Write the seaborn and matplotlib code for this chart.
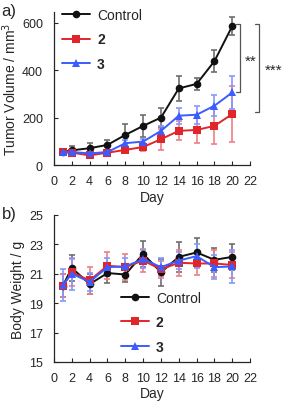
import numpy as np
import pandas as pd
import seaborn as sns
from matplotlib import pyplot as plt

sns.set_style("ticks")
plt.rcParams['font.family'] = ['Liberation Sans', 'DejaVu Sans']

days = [1, 2, 4, 6, 8, 10, 12, 14, 16, 18, 20]
groups = ['Control', '2', '3']

# tumor volume (mm^3)
vol_ctrl = [55, 62, 71, 85, 127, 165, 200, 323, 342, 438, 586]
vol_ctrl_err = [12, 20, 20, 20, 45, 45, 40, 52, 25, 47, 40]
vol_2 = [55, 52, 41, 52, 64, 76, 109, 144, 148, 165, 215]
vol_2_err = [10, 10, 10, 8, 12, 17, 45, 40, 55, 77, 118]
vol_3 = [55, 55, 49, 55, 92, 99, 144, 208, 212, 250, 306]
vol_3_err = [8, 10, 10, 8, 15, 12, 20, 33, 37, 45, 68]

# body weight (g)
bw_ctrl = [20.2, 21.4, 20.3, 21.05, 20.95, 22.35, 21.1, 22.15, 22.45, 21.95, 22.15]
bw_ctrl_err = [0.8, 0.9, 0.7, 0.7, 0.5, 0.9, 0.9, 1.0, 1.0, 0.8, 0.9]
bw_2 = [20.2, 21.1, 20.55, 21.55, 21.45, 21.9, 21.3, 21.75, 21.7, 21.7, 21.6]
bw_2_err = [0.8, 0.9, 0.9, 0.9, 0.9, 0.8, 0.6, 0.9, 0.8, 0.9, 0.9]
bw_3 = [20.25, 21.0, 20.45, 21.45, 21.5, 22.0, 21.45, 21.9, 22.2, 21.45, 21.5]
bw_3_err = [1.1, 1.1, 0.6, 0.6, 0.6, 0.6, 0.6, 0.6, 0.8, 0.8, 1.1]

colors = {'Control': '#111111', '2': '#e0262b', '3': '#3b5cff'}
err_colors = {'Control': '#6e6e6e', '2': '#ee7f83', '3': '#8299ff'}
markers = {'Control': 'o', '2': 's', '3': '^'}
msizes = {'Control': 5.5, '2': 6, '3': 5.5}


def make_df(a, b, c):
    rows = []
    for g, vals in zip(groups, (a, b, c)):
        for d, v in zip(days, vals):
            rows.append({'Day': d, 'value': v, 'group': g})
    return pd.DataFrame(rows)


def draw(ax, vals, errs):
    for g, v, e in zip(groups, vals, errs):
        ax.errorbar(days, v, yerr=e, fmt='none', ecolor=err_colors[g],
                    elinewidth=1.2, capsize=2.2, capthick=1.2, zorder=1)
    df = make_df(*vals)
    for g in groups:
        sub = df[df['group'] == g]
        sns.lineplot(data=sub, x='Day', y='value', ax=ax, color=colors[g],
                     marker=markers[g], markersize=msizes[g], markeredgewidth=0,
                     linewidth=1.4, label=g, zorder=3)
    ax.set_xlim(0, 22)
    ax.set_xticks(range(0, 23, 2))
    ax.set_xlabel('Day', fontsize=10, labelpad=2)
    ax.tick_params(direction='in', labelsize=9, length=3, width=0.8)
    ax.tick_params(axis='x', pad=7)
    ax.tick_params(axis='y', pad=8)
    for s in ['top', 'right']:
        ax.spines[s].set_visible(False)
    for s in ['left', 'bottom']:
        ax.spines[s].set_linewidth(0.9)


fig = plt.figure(figsize=(2.88, 4.06), dpi=100)
ax1 = fig.add_axes([0.1875, 0.591, 0.681, 0.377])
ax2 = fig.add_axes([0.1875, 0.106, 0.681, 0.362])

draw(ax1, (vol_ctrl, vol_2, vol_3), (vol_ctrl_err, vol_2_err, vol_3_err))
ax1.set_ylim(0, 645)
ax1.set_yticks([0, 200, 400, 600])
ax1.set_ylabel('Tumor Volume / mm$^3$', fontsize=10, labelpad=2)

draw(ax2, (bw_ctrl, bw_2, bw_3), (bw_ctrl_err, bw_2_err, bw_3_err))
ax2.set_ylim(15, 25)
ax2.set_yticks([15, 17, 19, 21, 23, 25])
ax2.set_ylabel('Body Weight / g', fontsize=10, labelpad=3)

for ax, loc, anchor in [(ax1, 'upper left', (0.0, 1.08)), (ax2, 'lower left', (0.3, 0.0))]:
    leg = ax.legend(loc=loc, bbox_to_anchor=anchor, frameon=False, fontsize=10,
                    handlelength=2.0, labelspacing=0.75, borderaxespad=0.2,
                    handletextpad=0.5)
    for t in leg.get_texts():
        if t.get_text() != 'Control':
            t.set_fontweight('bold')

# significance brackets
bc = '#555555'
ax1.plot([20.4, 20.9, 20.9, 20.4], [594, 594, 308, 308], color=bc, lw=0.9, clip_on=False)
ax1.text(22.1, 440, '**', fontsize=11, va='center', ha='center', clip_on=False)
ax1.plot([22.6, 23.0, 23.0, 22.6], [594, 594, 223, 223], color=bc, lw=0.9, clip_on=False)
ax1.text(23.6, 400, '***', fontsize=11, va='center', ha='left', clip_on=False)

fig.text(0.005, 0.972, 'a)', fontsize=12, va='center')
fig.text(0.005, 0.472, 'b)', fontsize=12, va='center')

plt.savefig('out.png', dpi=100)
